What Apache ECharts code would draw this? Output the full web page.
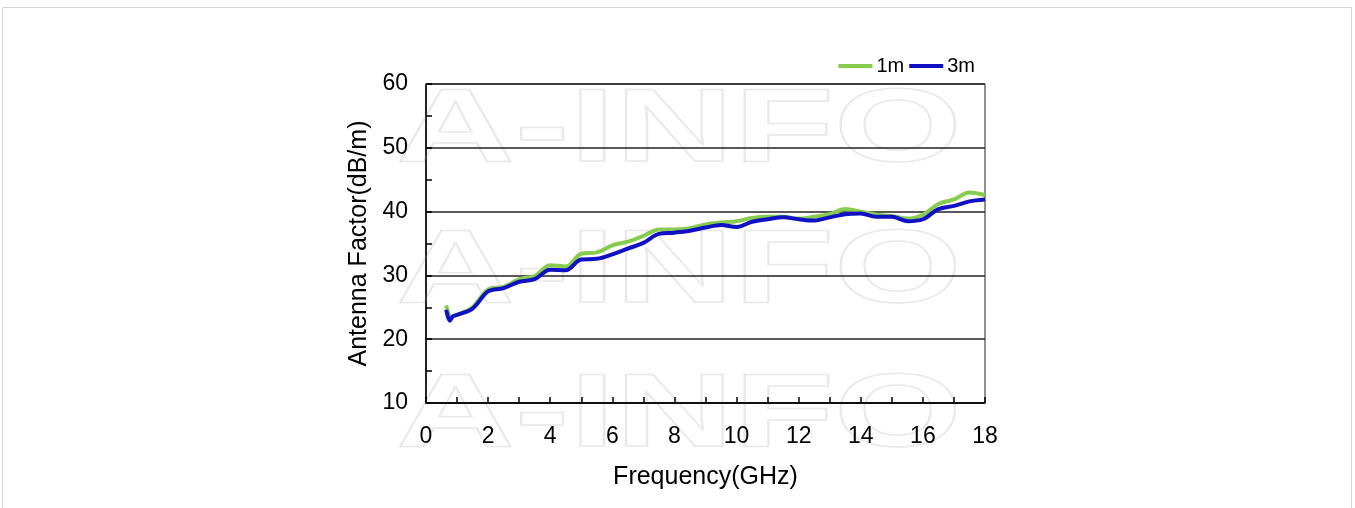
<!DOCTYPE html>
<html>
<head>
<meta charset="utf-8">
<script src="https://cdn.jsdelivr.net/npm/echarts@6/dist/echarts.min.js"></script>
<style>
html,body{margin:0;padding:0;background:#fff;}
#c{width:1355px;height:508px;}
</style>
</head>
<body>
<div id="c"></div>
<script>
// Frequency (GHz)
const freq1m = [0.65, 0.8, 1, 1.5, 2, 2.5, 3, 3.5, 4, 4.5, 5, 5.5, 6, 6.5, 7, 7.5, 8, 8.5, 9, 9.5, 10, 10.5, 11, 11.5, 12, 12.5, 13, 13.5, 14, 14.5, 15, 15.5, 16, 16.5, 17, 17.5, 18];
const af1m = [25.3, 23.5, 23.8, 25.0, 27.8, 28.2, 29.4, 29.9, 31.6, 31.4, 33.4, 33.6, 34.7, 35.3, 36.2, 37.2, 37.2, 37.4, 38.0, 38.3, 38.5, 39.0, 39.2, 39.2, 38.9, 39.2, 39.6, 40.4, 40.0, 39.5, 39.3, 38.9, 39.5, 41.2, 41.9, 43.0, 42.6];
const freq3m = [0.65, 0.77, 0.87, 1, 1.5, 2, 2.5, 3, 3.5, 4, 4.5, 5, 5.5, 6, 6.5, 7, 7.5, 8, 8.5, 9, 9.5, 10, 10.5, 11, 11.5, 12, 12.5, 13, 13.5, 14, 14.5, 15, 15.5, 16, 16.5, 17, 17.5, 18];
const af3m = [24.6, 22.9, 23.6, 23.8, 24.8, 27.5, 28.0, 29.0, 29.4, 30.9, 30.8, 32.5, 32.6, 33.3, 34.2, 35.1, 36.5, 36.7, 37.0, 37.5, 37.9, 37.6, 38.4, 38.8, 39.1, 38.8, 38.6, 39.1, 39.6, 39.7, 39.2, 39.2, 38.5, 38.8, 40.4, 40.9, 41.6, 41.9];
const seriesNames = ['1m', '3m'];
const xTickLabels = ['0','2','4','6','8','10','12','14','16','18'];
const yTickLabels = ['10','20','30','40','50','60'];

const FONT = '"Liberation Sans", Arial, sans-serif';
const chart = echarts.init(document.getElementById('c'), null, {renderer: 'canvas'});
const wmStyle = {text: 'A-INFO', fill: 'rgba(0,0,0,0)', stroke: '#e9e9e9', lineWidth: 1.5, font: 'bold 104px "Liberation Sans", Arial, sans-serif'};
const option = {
  backgroundColor: '#fff',
  animation: false,
  graphic: [
    {type: 'rect', shape: {x: 2.5, y: 7.5, width: 1349, height: 520}, style: {fill: 'none', stroke: '#d6d6d6', lineWidth: 1}, z: 0, silent: true},
    {type: 'text', x: 396, y: 80, scaleX: 1.58, style: Object.assign({}, wmStyle), z: 0, silent: true},
    {type: 'text', x: 396, y: 221, scaleX: 1.58, style: Object.assign({}, wmStyle), z: 0, silent: true},
    {type: 'text', x: 396, y: 365, scaleX: 1.58, style: Object.assign({}, wmStyle), z: 0, silent: true}
  ],
  legend: {
    data: seriesNames,
    right: 380, top: 56, padding: 0,
    itemWidth: 34, itemHeight: 4, itemGap: 5,
    icon: 'rect',
    textStyle: {fontSize: 20, color: '#000', fontFamily: FONT, padding: [0,0,0,-1]}
  },
  grid: {left: 426, right: 370, top: 84, bottom: 105, show: true, borderColor: '#222', borderWidth: 1, backgroundColor: 'transparent'},
  xAxis: {
    type: 'value', min: 0, max: 18, interval: 2,
    name: 'Frequency(GHz)', nameLocation: 'middle', nameGap: 62,
    nameTextStyle: {fontSize: 25, color: '#000', fontFamily: FONT},
    axisLine: {show: true, lineStyle: {color: '#000', width: 1.5}},
    axisTick: {show: true, inside: true, length: 6, lineStyle: {color: '#000', width: 1.5}},
    minorTick: {show: true, splitNumber: 2, length: 6, lineStyle: {color: '#000', width: 1.5}},
    axisLabel: {fontSize: 23, color: '#000', margin: 22, fontFamily: FONT,
      formatter: v => xTickLabels[Math.round(v / 2)] || ''},
    splitLine: {show: false}
  },
  yAxis: {
    type: 'value', min: 10, max: 60, interval: 10,
    name: 'Antenna Factor(dB/m)', nameLocation: 'middle', nameGap: 54,
    nameTextStyle: {fontSize: 25, color: '#000', fontFamily: FONT},
    axisLine: {show: true, lineStyle: {color: '#000', width: 1.5}},
    axisTick: {show: true, inside: true, length: 6, lineStyle: {color: '#000', width: 1.5}},
    minorTick: {show: true, splitNumber: 2, length: 6, lineStyle: {color: '#000', width: 1.5}},
    axisLabel: {fontSize: 23, color: '#000', margin: 18, fontFamily: FONT,
      formatter: v => yTickLabels[Math.round((v - 10) / 10)] || ''},
    splitLine: {show: true, lineStyle: {color: '#222', width: 1.5}}
  },
  series: [
    {name: seriesNames[0], type: 'line', data: freq1m.map((f, i) => [f, af1m[i]]), smooth: 0.35, symbol: 'none',
      lineStyle: {color: '#86cc4e', width: 4}, itemStyle: {color: '#86cc4e'}, z: 3},
    {name: seriesNames[1], type: 'line', data: freq3m.map((f, i) => [f, af3m[i]]), smooth: 0.35, symbol: 'none',
      lineStyle: {color: '#1010c4', width: 4}, itemStyle: {color: '#1010c4'}, z: 4}
  ]
};
chart.setOption(option);
</script>
</body>
</html>
